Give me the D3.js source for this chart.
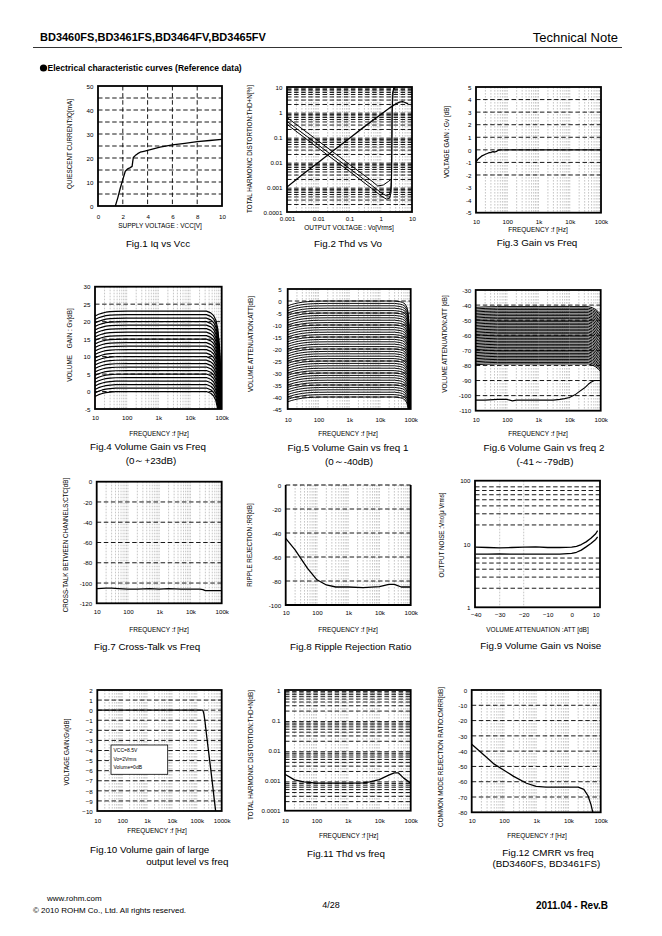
<!DOCTYPE html>
<html><head><meta charset="utf-8">
<script src="https://cdn.jsdelivr.net/npm/d3@7"></script>
<style>
body{margin:0;background:#fff}
svg{display:block}
text{font-family:"Liberation Sans",Arial,sans-serif;fill:#000}
</style>
</head><body>
<script>
// ---------------- DATA ----------------
// Fig.1 Iq vs Vcc
const f1Vcc = [1.4,1.6,1.8,2.0,2.2,2.4,2.6,2.75,2.8,2.85,3.0,3.2,3.4,3.7,4,5,6,7,8,9,10];
const f1Iq  = [0,3.5,7.5,11,14.5,15.5,16,16.5,18.5,20.2,21,21.8,22.4,22.8,23.2,24.5,25.5,26.1,26.8,27.3,27.8];
// Fig.2 THD vs Vo
const f2VoR  = [0.001,0.003,0.01,0.03,0.1,0.3,1,2,3,4,5,6,7.5];
const f2ThdR = [0.001,0.003,0.0095,0.028,0.09,0.26,0.8,1.5,2.1,2.5,2.6,2.4,2.1];
const f2VoA  = [0.001,0.01,0.1,0.5,0.8,1.2,1.8,2.3];
const f2ThdA = [0.6,0.07,0.008,0.0018,0.0011,0.0012,0.0017,0.0022];
const f2VoB  = [0.001,0.01,0.1,0.5,1,1.5,1.9,2.1,2.2,2.25,2.3,2.5,2.8];
const f2ThdB = [0.42,0.048,0.0055,0.0012,0.0006,0.00045,0.0005,0.0008,0.003,0.05,1,7,9];
const f2VoC  = [0.001,0.01,0.1,0.5,1,1.5,1.9,2.15,2.25,2.3,2.35,2.6,3];
const f2ThdC = [0.32,0.036,0.0042,0.0009,0.00045,0.00033,0.00035,0.0006,0.005,0.2,5,9.5,10];
// Fig.3 Gain vs Freq
const f3Freq = [10,12,15,20,25,30,35,40,45,50,60,100,1000,10000,100000];
const f3Gain = [-0.95,-0.7,-0.5,-0.35,-0.25,-0.2,-0.15,-0.17,-0.12,-0.05,0,0,0,0,0];
// Fig.4 Volume gain (0..+23 dB)
const f4Levels = [0,1,2,3,4,5,6,7,8,9,10,11,12,13,14,15,16,17,18,19,20,21,22,23];
const f4Freq   = [10,13,17,22,30,45,100,1000,10000,33000,45000,55000,65000,75000,85000,92000,100000];
const f4Shape  = [-1.4,-0.9,-0.55,-0.3,-0.15,-0.05,0,0,0,0,-0.5,-1.2,-2.5,-5,-10,-17,-30];
// Fig.5 Volume attenuation (0..-40 dB)
const f5Levels = [0,-1,-2,-3,-4,-5,-6,-7,-8,-9,-10,-11,-12,-13,-14,-15,-16,-17,-18,-19,-20,-21,-22,-23,-24,-25,-26,-27,-28,-29,-30,-31,-32,-33,-34,-35,-36,-37,-38,-39,-40];
const f5Freq   = [10,13,17,22,30,45,70,100,200,1000,10000,30000,45000,55000,65000,75000,83000,90000,95000,100000];
const f5Shape  = [-2,-1.5,-1.1,-0.8,-0.5,-0.25,-0.1,-0.05,0,0,0,0,-0.3,-0.6,-1.2,-2.5,-5,-12,-25,-50];
// Fig.6 Volume attenuation (-41..-79 dB) + floor
const f6Levels = [-41,-42,-43,-44,-45,-46,-47,-48,-49,-50,-51,-52,-53,-54,-55,-56,-57,-58,-59,-60,-61,-62,-63,-64,-65,-66,-67,-68,-69,-70,-71,-72,-73,-74,-75,-76,-77,-78,-79];
const f6Freq   = [10,20,50,100,1000,10000,40000,55000,70000,85000,100000];
const f6Shape  = [-0.5,-0.2,0,0,0,0,0,-0.8,-2,-3.5,-5];
const f6FloorFreq = [10,20,50,100,150,200,300,1000,3000,5000,7000,10000,15000,20000,30000,40000,50000,63000,100000];
const f6Floor     = [-103,-103,-102.5,-102.5,-103.5,-103,-103,-103,-103,-102.5,-102,-101.3,-99.5,-97.5,-95,-92.5,-91,-90,-90];
// Fig.7 Cross-talk
const f7Freq = [10,20,30,50,100,200,500,1000,2000,5000,10000,15000,20000,25000,30000,50000,100000];
const f7Ctc  = [-105.5,-105,-105,-105.5,-106,-106,-105.5,-106,-105.5,-106,-106,-106,-106,-106.5,-107.5,-107.5,-107.5];
// Fig.8 Ripple rejection
const f8Freq = [10,20,30,50,100,200,400,1000,3000,10000,20000,30000,50000,100000];
const f8RR   = [-44.5,-54,-61,-69.5,-79,-83.3,-85,-85,-85.5,-84.7,-82.8,-82.8,-85,-85];
// Fig.9 Output noise vs attenuation
const f9Att    = [-40,-35,-30,-25,-20,-15,-10,-5,0,2,4,6,8,10,10.8];
const f9NoiseA = [8.9,8.8,8.7,8.8,8.9,9.0,8.8,8.8,8.9,9.2,9.8,10.8,12.3,14.5,16.3];
const f9NoiseB = [6.9,6.9,7.0,6.9,6.9,6.9,6.9,6.9,7.1,7.4,8.0,9.0,10.2,11.8,13.0];
// Fig.10 Large output level gain
const f10Freq = [10,100,1000,10000,100000,174000,190000,210000,250000,300000,360000,430000,510000,590000];
const f10Gv   = [0,0,0,0,0,0,-0.3,-1,-2.6,-4.2,-5.8,-7.4,-9,-10.3];
// Fig.11 THD vs freq
const f11Freq = [10,20,40,100,1000,3000,5000,10000,20000,30000,40000,60000,100000];
const f11Thd  = [0.0016,0.00105,0.0009,0.00082,0.00082,0.00084,0.0009,0.00107,0.0015,0.0018,0.0018,0.0012,0.00082];
// Fig.12 CMRR
const f12Freq = [10,20,50,100,200,500,1000,2000,10000,20000,30000,40000,50000,57000];
const f12Cmrr = [-35.5,-41,-48.5,-52.5,-56.5,-61,-63,-63.5,-63.5,-63.5,-65,-69,-75,-80];

// tick labels
const freqTicks5 = [10,100,1000,10000,100000];
const freqLabels5 = ['10','100','1k','10k','100k'];
const freqTicks6 = [10,100,1000,10000,100000,1000000];
const freqLabels6 = ['10','100','1k','10k','100k','1000k'];

// ---------------- DRAWING ----------------
const svg = d3.select('body').append('svg').attr('width',662).attr('height',936);
const FONT = '"Liberation Sans", Arial, sans-serif';
const DASH = '4.5 2.6';

function minors(lo, hi){ const o=[]; for(let e=lo;e<hi;e++){ for(let m=2;m<=9;m++) o.push(+(m*Math.pow(10,e)).toPrecision(3)); } return o; }
function decades(lo, hi){ const o=[]; for(let e=lo;e<=hi;e++) o.push(+Math.pow(10,e).toPrecision(3)); return o; }
function range(a,b,s){ const o=[]; for(let v=a; s>0? v<=b+1e-9 : v>=b-1e-9; v+=s) o.push(+v.toFixed(6)); return o; }

let clipN = 0;
function plot(c){
  const [L,R,T,B] = c.b;
  const x = (c.xlog?d3.scaleLog():d3.scaleLinear()).domain(c.xd).range(c.xr||[L,R]);
  const y = (c.ylog?d3.scaleLog():d3.scaleLinear()).domain(c.yd).range([B,T]);
  const id = 'clip'+(clipN++);
  svg.append('clipPath').attr('id',id).append('rect').attr('x',L).attr('y',T).attr('width',R-L).attr('height',B-T);
  const g = svg.append('g');
  const inner = g.append('g').attr('clip-path',`url(#${id})`);
  inner.selectAll('line.vm').data(c.vMinor||[]).join('line').attr('class','vm')
    .attr('x1',d=>x(d)).attr('x2',d=>x(d)).attr('y1',T).attr('y2',B)
    .attr('stroke','#a0a0a0').attr('stroke-width',0.6).attr('stroke-dasharray','1.6 1.4');
  inner.selectAll('line.vg').data(c.vGrid||[]).join('line').attr('class','vg')
    .attr('x1',d=>x(d)).attr('x2',d=>x(d)).attr('y1',T).attr('y2',B)
    .attr('stroke','#000').attr('stroke-width',0.9).attr('stroke-dasharray',DASH);
  inner.selectAll('line.hg').data(c.hGrid||[]).join('line').attr('class','hg')
    .attr('x1',L).attr('x2',R).attr('y1',d=>y(d)).attr('y2',d=>y(d))
    .attr('stroke','#000').attr('stroke-width',c.hw||0.9).attr('stroke-dasharray',DASH);
  const line = d3.line().x(d=>x(d[0])).y(d=>y(d[1]));
  (c.series||[]).forEach(s=>{
    inner.append('path').attr('d',line(s.pts)).attr('fill','none')
      .attr('stroke',s.color||'#000').attr('stroke-width',s.w||1.3).attr('stroke-linejoin','round');
  });
  // frame
  if(c.topDashed){
    g.append('path').attr('d',`M${L},${T}V${B}H${R}V${T}`).attr('fill','none').attr('stroke','#000').attr('stroke-width',1.8);
    g.append('line').attr('x1',L).attr('x2',R).attr('y1',T).attr('y2',T).attr('stroke','#000').attr('stroke-width',1.2).attr('stroke-dasharray',DASH);
  } else {
    g.append('rect').attr('x',L).attr('y',T).attr('width',R-L).attr('height',B-T)
      .attr('fill','none').attr('stroke','#000').attr('stroke-width',1.8);
  }
  // axes
  const xg = g.append('g').call(d3.axisBottom(x).tickValues(c.xt).tickFormat((d,i)=>c.xl[i]).tickSize(0));
  xg.select('.domain').remove();
  xg.attr('font-size',6.2).attr('font-family',FONT);
  xg.selectAll('text').attr('y',c.xly).attr('dy','0.35em');
  const yg = g.append('g').attr('transform',`translate(${L},0)`)
    .call(d3.axisLeft(y).tickValues(c.yt).tickFormat((d,i)=>c.yl[i]).tickSize(0).tickPadding(c.ypad||4.5));
  yg.select('.domain').remove();
  yg.attr('font-size',6.2).attr('font-family',FONT);
  yg.selectAll('text').attr('dy','0.35em');
  // titles
  g.append('text').attr('x',c.xtx).attr('y',c.xty).attr('dy','0.35em').attr('text-anchor','middle')
    .attr('font-size',6.5).text(c.xtitle);
  g.append('text').attr('transform',`translate(${c.ytx},${c.yty}) rotate(-90)`).attr('dy','0.35em')
    .attr('text-anchor','middle').attr('font-size',6.3).style('white-space','pre').text(c.ytitle);
  c.fig.forEach(f=>{
    g.append('text').attr('x',f[1]).attr('y',f[2]).attr('dy','0.35em').attr('text-anchor','middle')
      .attr('font-size',9.8).text(f[0]);
  });
  return {x,y,g};
}
const zip = (a,b)=>d3.zip(a,b);
const lab = (arr,minus)=>arr.map(v=>minus? String(v).replace('-','\u2212') : String(v));

// Fig.1
plot({b:[98,222,86,206], xd:[0,10], yd:[0,50],
  xt:range(0,10,2), xl:lab(range(0,10,2)), yt:range(0,50,10), yl:lab(range(0,50,10)),
  hGrid:range(5,45,5), vGrid:[2,4,6,8], xly:216.7,
  xtitle:'SUPPLY VOLTAGE : VCC[V]', xtx:160, xty:225.7,
  ytitle:'QUIESCENT CURRENT:IQ[mA]', ytx:70, yty:144,
  fig:[['Fig.1 Iq vs Vcc',158,243.5]],
  series:[{pts:zip(f1Vcc,f1Iq)}]});

// Fig.2
plot({b:[287,412,87,212], xlog:true, ylog:true, xd:[0.001,10], yd:[0.0001,10],
  xt:decades(-3,1), xl:['0.001','0.01','0.1','1','10'],
  yt:decades(-4,1), yl:['0.0001','0.001','0.01','0.1','1','10'],
  hGrid:minors(-4,1), vMinor:minors(-3,1).concat(decades(-2,0)), xly:219,
  xtitle:'OUTPUT VOLTAGE : Vo[Vrms]', xtx:349, xty:228,
  ytitle:'TOTAL HARMONIC DISTORTION:THD+N[%]', ytx:250, yty:149,
  fig:[['Fig.2 Thd vs Vo',348,243.5]],
  series:[{pts:zip(f2VoR,f2ThdR)},{pts:zip(f2VoA,f2ThdA),w:1},{pts:zip(f2VoB,f2ThdB),w:1},{pts:zip(f2VoC,f2ThdC),w:1}]});

// Fig.3
plot({b:[476,601,87,212.7], xlog:true, xd:[10,100000], yd:[-5,5],
  xt:freqTicks5, xl:freqLabels5, yt:range(-5,5,1), yl:lab(range(-5,5,1)),
  hGrid:[-2,-1,0,1,2,3,4], vMinor:minors(1,5).concat(decades(2,4)), xly:222,
  xtitle:'FREQUENCY :f [Hz]', xtx:538, xty:230,
  ytitle:'VOLTAGE GAIN : Gv [dB]', ytx:447, yty:142,
  fig:[['Fig.3 Gain vs Freq',537,242.5]],
  series:[{pts:zip(f3Freq,f3Gain)}]});

// Fig.4
plot({b:[95,221.7,286.7,409], xlog:true, xd:[10,100000], yd:[-5,30],
  xt:freqTicks5, xl:freqLabels5, yt:range(-5,30,5), yl:lab(range(-5,30,5)),
  hGrid:range(0,25,5), vMinor:minors(1,5).concat(decades(2,4)), xly:417.5,
  xtitle:'FREQUENCY :f [Hz]', xtx:159, xty:434,
  ytitle:'VOLUME    GAIN : Gv[dB]', ytx:70, yty:345,
  fig:[['Fig.4 Volume Gain vs Freq',148,446.5],['(0\uFF5E+23dB)',151,460.5]],
  series:f4Levels.map(lv=>({pts:zip(f4Freq,f4Shape.map(o=>lv+o)),w:1.2}))});

// Fig.5
plot({b:[287.7,410.7,289,409], xlog:true, xd:[10,100000], yd:[-45,5],
  xt:freqTicks5, xl:freqLabels5, yt:range(-45,5,5), yl:lab(range(-45,5,5)), ypad:6,
  hGrid:range(-40,0,5), vMinor:minors(1,5).concat(decades(2,4)), xly:420,
  xtitle:'FREQUENCY :f [Hz]', xtx:348, xty:434,
  ytitle:'VOLUME ATTENUATION:ATT[dB]', ytx:251, yty:344,
  fig:[['Fig.5 Volume Gain vs freq 1',348,448],['(0\uFF5E-40dB)',349,461.5]],
  series:f5Levels.map(lv=>({pts:zip(f5Freq,f5Shape.map(o=>lv+o)),w:0.95}))});

// Fig.6
plot({b:[475.7,600.7,290,410.7], xlog:true, xd:[10,100000], yd:[-110,-30],
  xt:freqTicks5, xl:freqLabels5, yt:range(-110,-30,10), yl:lab(range(-110,-30,10)),
  hGrid:range(-100,-40,10), vMinor:minors(1,5).concat(decades(2,4)), xly:420,
  xtitle:'FREQUENCY :f [Hz]', xtx:538, xty:434,
  ytitle:'VOLUME ATTENUATION:ATT [dB]', ytx:445, yty:344,
  fig:[['Fig.6 Volume Gain vs freq 2',544,448],['(-41\uFF5E-79dB)',545,461.5]],
  series:f6Levels.map(lv=>({pts:zip(f6Freq,f6Shape.map(o=>lv+o)),w:1.0}))
    .concat([{pts:zip(f6FloorFreq,f6Floor),w:1.1}])});

// Fig.7
plot({b:[96.7,221.7,481.7,603.3], xlog:true, xd:[10,100000], yd:[-120,0],
  xt:freqTicks5, xl:freqLabels5, yt:range(-120,0,20), yl:lab(range(-120,0,20)),
  hGrid:range(-100,-20,20), vMinor:minors(1,5).concat(decades(2,4)), xly:611.7,
  xtitle:'FREQUENCY :f [Hz]', xtx:159, xty:629.5,
  ytitle:'CROSS-TALK BETWEEN CHANNELS:CTC[dB]', ytx:66, yty:545,
  fig:[['Fig.7 Cross-Talk vs Freq',147,646.5]],
  series:[{pts:zip(f7Freq,f7Ctc),w:1.1}]});

// Fig.8
plot({b:[285.7,410.7,485,605], xlog:true, xd:[10,100000], yd:[-100,0], topDashed:true,
  xt:freqTicks5, xl:freqLabels5, yt:range(-100,0,20), yl:lab(range(-100,0,20)),
  hGrid:range(-80,-20,20), vMinor:minors(1,5).concat(decades(2,4)), xly:612.7,
  xtitle:'FREQUENCY :f [Hz]', xtx:348, xty:629.5,
  ytitle:'RIPPLE REJECTION :RR[dB]', ytx:250, yty:545,
  fig:[['Fig.8 Ripple Rejection Ratio',350.7,646.5]],
  series:[{pts:zip(f8Freq,f8RR)}]});

// Fig.9
plot({b:[475,600,480.7,607.3], xr:[475.7,595.7], ylog:true, xd:[-40,10], yd:[1,100],
  xt:range(-40,10,10), xl:lab(range(-40,10,10),true), yt:[1,10,100], yl:['1','10','100'],
  hGrid:[2,3,4,5,6,20,30,40,50,60,70,80], vMinor:[-30,-20], xly:615,
  xtitle:'VOLUME ATTENUATION :ATT [dB]', xtx:537.5, xty:629.5,
  ytitle:'OUTPUT NOISE :Vno[\u03BC Vrms]', ytx:442, yty:535,
  fig:[['Fig.9 Volume Gain vs Noise',540.8,646]],
  series:[{pts:zip(f9Att,f9NoiseA)},{pts:zip(f9Att,f9NoiseB)}]});

// Fig.10
const p10 = plot({b:[97.3,221.7,690,811], xlog:true, xd:[10,1000000], yd:[-10,2],
  xt:freqTicks6, xl:freqLabels6, yt:range(-10,2,1), yl:lab(range(-10,2,1),true),
  hGrid:range(-9,1,1), vMinor:minors(1,6).concat(decades(2,5)), xly:820.7,
  xtitle:'FREQUENCY :f [Hz]', xtx:157, xty:830.5,
  ytitle:'VOLTAGE GAIN:Gv[dB]', ytx:67, yty:752,
  fig:[['Fig.10 Volume gain of large',149.7,849.5],['output level vs freq',187.3,861.7]],
  series:[{pts:zip(f10Freq,f10Gv)}]});
const legendLines = ['VCC=8.5V','Vo=2Vrms','Volume=0dB'];
p10.g.append('rect').attr('x',111).attr('y',745).attr('width',56.7).attr('height',29.3)
  .attr('fill','#fff').attr('stroke','#000').attr('stroke-width',0.8);
p10.g.selectAll('text.leg').data(legendLines).join('text').attr('class','leg')
  .attr('x',113.5).attr('y',(d,i)=>750.7+i*8.3).attr('dy','0.35em').attr('font-size',5).text(d=>d);

// Fig.11
plot({b:[285,410.7,690,810.7], xlog:true, ylog:true, xd:[10,100000], yd:[0.0001,1],
  xt:freqTicks5, xl:freqLabels5, yt:decades(-4,0), yl:['0.0001','0.001','0.01','0.1','1'],
  hGrid:minors(-4,0), vMinor:minors(1,5).concat(decades(2,4)), xly:820.7,
  xtitle:'FREQUENCY :f [Hz]', xtx:348.7, xty:836,
  ytitle:'TOTAL HARMONIC DISTORTION:THD+N[dB]', ytx:251, yty:755,
  fig:[['Fig.11 Thd vs freq',346,853.5]],
  series:[{pts:zip(f11Freq,f11Thd)}]});

// Fig.12
plot({b:[471.7,600.7,690,812.3], xlog:true, xd:[10,100000], yd:[-80,0],
  xt:freqTicks5, xl:freqLabels5, yt:range(-80,0,10), yl:lab(range(-80,0,10)),
  hGrid:range(-70,-10,10), vMinor:minors(1,5).concat(decades(2,4)), xly:821,
  xtitle:'FREQUENCY :f [Hz]', xtx:537, xty:835.5,
  ytitle:'COMMON MODE REJECTION RATIO:CMRR[dB]', ytx:441, yty:757,
  fig:[['Fig.12 CMRR vs freq',548,853],['(BD3460FS, BD3461FS)',546.3,863.5]],
  series:[{pts:zip(f12Freq,f12Cmrr)}]});

// ---------------- PAGE TEXT ----------------
svg.append('text').attr('x',40).attr('y',37).attr('dy','0.35em').attr('font-size',11).attr('font-weight','bold')
  .text('BD3460FS,BD3461FS,BD3464FV,BD3465FV');
svg.append('text').attr('x',618).attr('y',37).attr('dy','0.35em').attr('font-size',13).attr('text-anchor','end')
  .text('Technical Note');
svg.append('line').attr('x1',33).attr('x2',622).attr('y1',47.5).attr('y2',47.5).attr('stroke','#000').attr('stroke-width',0.8);
svg.append('circle').attr('cx',43.5).attr('cy',68).attr('r',3.6).attr('fill','#000');
svg.append('text').attr('x',47.5).attr('y',68).attr('dy','0.35em').attr('font-weight','bold').attr('font-size',8.5)
  .text('Electrical characteristic curves (Reference data)');
svg.append('text').attr('x',47).attr('y',898).attr('dy','0.35em').attr('font-size',8).text('www.rohm.com');
svg.append('text').attr('x',33).attr('y',910.5).attr('dy','0.35em').attr('font-size',8).text('\u00A9 2010 ROHM Co., Ltd. All rights reserved.');
svg.append('text').attr('x',331).attr('y',905).attr('dy','0.35em').attr('font-size',9).attr('text-anchor','middle').text('4/28');
svg.append('text').attr('x',608).attr('y',905).attr('dy','0.35em').attr('font-size',10).attr('font-weight','bold').attr('text-anchor','end').text('2011.04 - Rev.B');
</script>
</body></html>
